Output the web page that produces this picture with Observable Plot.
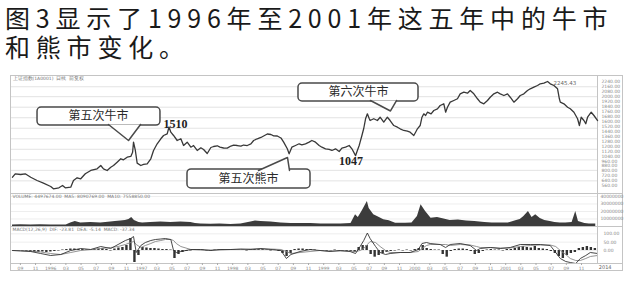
<!DOCTYPE html>
<html><head><meta charset="utf-8">
<script src="https://cdn.jsdelivr.net/npm/d3@7"></script>
<script src="https://cdn.jsdelivr.net/npm/@observablehq/plot@0.6"></script>
<style>
html,body{margin:0;padding:0;background:#fff;}
body{width:632px;height:287px;position:relative;overflow:hidden;}
.title{position:absolute;left:5px;font-family:"Noto Sans CJK SC",sans-serif;font-size:25px;line-height:28px;height:28px;letter-spacing:5.8px;color:#1a1a1a;white-space:nowrap;}
#frame{position:absolute;left:10px;top:75px;width:613px;height:196px;border:1px solid #c4c4c4;box-sizing:border-box;}
.sep{position:absolute;left:597px;width:25px;height:0;border-top:1px solid #c4c4c4;}
.panel{position:absolute;left:0;}
g[aria-label="callout"] text{letter-spacing:2px;}
</style></head><body>
<div class="title" style="top:3px">图3显示了1996年至2001年这五年中的牛市</div>
<div class="title" style="top:32px">和熊市变化。</div>
<div id="frame"></div>
<div class="sep" style="top:193px"></div>
<div class="sep" style="top:226px"></div>
<div class="sep" style="top:263px"></div>
<div id="price" class="panel" style="top:62px"></div>
<div id="vol" class="panel" style="top:193px"></div>
<div id="macd" class="panel" style="top:226px"></div>
<script>
// ---------- data ----------
const priceT = [1995.58,1995.61,1995.67,1995.72,1995.78,1995.85,1995.92,1996.00,1996.03,1996.09,1996.13,1996.16,1996.22,1996.25,1996.29,1996.33,1996.38,1996.44,1996.51,1996.55,1996.58,1996.62,1996.66,1996.69,1996.73,1996.77,1996.80,1996.84,1996.88,1996.90,1996.91,1996.93,1996.95,1996.99,1997.02,1997.06,1997.10,1997.13,1997.17,1997.21,1997.24,1997.28,1997.30,1997.32,1997.35,1997.39,1997.43,1997.46,1997.50,1997.54,1997.57,1997.61,1997.65,1997.68,1997.72,1997.76,1997.79,1997.83,1997.86,1997.90,1997.94,1997.98,1998.01,1998.05,1998.09,1998.12,1998.16,1998.20,1998.23,1998.27,1998.31,1998.34,1998.38,1998.42,1998.45,1998.49,1998.53,1998.56,1998.60,1998.62,1998.65,1998.69,1998.73,1998.76,1998.80,1998.84,1998.87,1998.91,1998.95,1998.98,1999.02,1999.06,1999.09,1999.13,1999.17,1999.20,1999.24,1999.28,1999.31,1999.35,1999.37,1999.39,1999.40,1999.42,1999.44,1999.46,1999.48,1999.50,1999.51,1999.55,1999.59,1999.62,1999.66,1999.70,1999.73,1999.77,1999.81,1999.84,1999.88,1999.92,1999.95,1999.99,2000.01,2000.03,2000.06,2000.08,2000.10,2000.12,2000.14,2000.18,2000.21,2000.25,2000.28,2000.32,2000.34,2000.36,2000.39,2000.43,2000.47,2000.50,2000.54,2000.58,2000.61,2000.65,2000.69,2000.72,2000.76,2000.80,2000.83,2000.87,2000.91,2000.94,2000.98,2001.02,2001.05,2001.09,2001.13,2001.16,2001.20,2001.24,2001.27,2001.31,2001.35,2001.38,2001.42,2001.46,2001.49,2001.53,2001.57,2001.59,2001.60,2001.64,2001.68,2001.71,2001.75,2001.79,2001.81,2001.83,2001.86,2001.88,2001.90,2001.94,2001.97,2002.01];
const priceV = [699,754,743,754,699,646,603,549,512,528,565,528,538,646,690,674,754,808,835,888,835,808,861,888,942,997,980,1022,1034,1103,1265,1131,926,888,905,916,997,1131,1239,1320,1373,1400,1510,1426,1373,1292,1320,1211,1265,1184,1211,1131,1174,1147,1082,1179,1195,1207,1184,1171,1168,1203,1216,1211,1200,1219,1211,1236,1292,1320,1341,1365,1397,1389,1368,1365,1333,1265,1158,1077,1184,1211,1239,1223,1239,1265,1292,1265,1211,1184,1158,1147,1131,1158,1115,1168,1184,1211,1158,1047,1131,1211,1265,1373,1486,1643,1723,1647,1615,1643,1615,1668,1588,1668,1615,1534,1507,1481,1454,1442,1426,1373,1426,1481,1534,1668,1723,1696,1749,1723,1777,1804,1857,1885,1749,1830,1911,1938,1966,2046,2072,2056,2100,2046,1966,1911,1885,1938,1991,2046,2072,2046,2019,2046,1991,1911,1966,2019,2046,2100,2127,2153,2180,2208,2218,2245,2208,2180,2127,1966,1911,1885,1830,1804,1749,1643,1534,1668,1615,1562,1668,1749,1696,1615];

const gridLevels = [2160,2000,1830,1660,1490,1320,1150,980,810,640];
const priceTicks = [560,640,720,800,880,960,1040,1120,1200,1280,1360,1440,1520,1600,1680,1760,1840,1920,2000,2080,2160,2240];

const volT = [1995.58,1995.67,1995.78,1995.89,1996.00,1996.11,1996.17,1996.22,1996.27,1996.33,1996.44,1996.55,1996.66,1996.71,1996.77,1996.82,1996.86,1996.89,1996.92,1996.97,1997.01,1997.10,1997.21,1997.32,1997.43,1997.54,1997.59,1997.65,1997.76,1997.86,1997.98,1998.09,1998.20,1998.25,1998.31,1998.42,1998.53,1998.64,1998.75,1998.86,1998.97,1999.08,1999.19,1999.30,1999.35,1999.38,1999.42,1999.45,1999.48,1999.50,1999.55,1999.59,1999.66,1999.72,1999.79,1999.90,1999.97,2000.03,2000.07,2000.12,2000.18,2000.25,2000.31,2000.39,2000.48,2000.57,2000.66,2000.77,2000.85,2000.94,2001.03,2001.12,2001.16,2001.20,2001.25,2001.29,2001.33,2001.38,2001.43,2001.49,2001.54,2001.60,2001.66,2001.73,2001.77,2001.80,2001.87,2001.92,2001.99];
const volV = [2.0,2.3,2.0,2.4,2.0,2.1,2.0,4.7,6.7,4.7,5.3,4.7,6.0,6.7,7.3,8.0,9.3,12.0,8.0,5.3,4.7,5.3,6.0,5.3,6.0,5.3,4.0,3.3,3.1,3.3,2.7,3.3,6.0,7.3,6.7,6.0,4.7,4.0,4.0,4.0,3.3,3.3,3.3,4.0,15.6,12.0,20.0,26.7,33.3,24.0,15.6,13.3,8.9,7.6,4.4,4.4,4.7,13.3,28.9,20.0,11.1,12.0,10.3,8.0,8.7,7.3,6.7,5.3,4.7,4.7,4.7,8.0,9.3,13.3,20.0,12.0,15.6,10.7,8.0,6.7,5.3,4.7,4.7,5.3,20.0,6.7,4.0,3.3,3.3];
const volTicks = [10,20,30,40];

const macdT = [1995.58,1995.67,1995.78,1995.89,1996.00,1996.11,1996.22,1996.33,1996.44,1996.55,1996.66,1996.74,1996.82,1996.88,1996.91,1996.94,1996.99,1997.04,1997.10,1997.15,1997.21,1997.26,1997.32,1997.35,1997.38,1997.43,1997.54,1997.65,1997.76,1997.86,1997.98,1998.09,1998.20,1998.31,1998.42,1998.53,1998.59,1998.64,1998.74,1998.85,1998.96,1999.07,1999.18,1999.29,1999.35,1999.40,1999.44,1999.48,1999.51,1999.57,1999.62,1999.68,1999.73,1999.84,1999.95,2000.04,2000.08,2000.13,2000.17,2000.28,2000.34,2000.39,2000.50,2000.61,2000.68,2000.72,2000.83,2000.94,2001.05,2001.16,2001.27,2001.38,2001.49,2001.55,2001.60,2001.66,2001.71,2001.77,2001.82,2001.88,2001.93,2002.01];
const difV = [0,-3,-6,-18,-30,-24,0,12,6,24,12,36,60,72,84,-12,30,48,60,66,69,72,66,0,-12,-6,6,6,0,6,6,9,6,12,6,0,-48,-24,-6,6,0,-6,0,-6,-18,24,60,105,72,24,-12,-24,-18,-12,-12,6,42,48,42,36,18,36,42,30,0,12,18,12,18,36,36,36,30,-12,-48,-66,-72,-78,-48,-30,-12,-18];
const deaV = [0,0,-3,-9,-18,-24,-12,0,6,12,18,24,36,48,54,36,18,30,42,54,60,66,66,60,42,24,6,3,3,3,6,6,9,9,9,6,-6,-18,-12,-6,0,-3,-3,-3,-6,0,12,36,54,48,24,0,-12,-12,-12,-6,12,30,36,36,36,30,36,33,24,18,18,15,15,24,30,33,33,24,0,-24,-48,-60,-60,-48,-36,-30];
const histStart = 1995.60, histStep = 0.044;
const histV = [-3,-3,-6,-6,-9,-12,-12,-9,-12,-9,-6,-3,3,6,9,9,6,6,3,0,6,9,12,6,-3,9,15,18,30,72,-72,-30,18,15,12,12,9,6,6,3,-48,-24,-12,-6,-3,3,3,3,-3,-3,3,3,3,0,3,3,3,3,-3,3,6,6,6,3,-3,3,-6,-18,-36,-18,6,9,9,6,6,3,0,-3,-6,-3,3,-3,-3,-6,-6,-12,18,30,30,-24,-40,-30,-18,-12,-6,-3,3,-3,3,-3,6,12,30,12,6,3,3,-24,-40,-6,6,9,9,6,-6,-24,-18,-6,3,6,3,3,-3,6,6,12,18,24,18,15,24,12,9,6,-6,-18,-36,-48,-30,-18,-12,12,18,24,18,12];
const macdTicks = [0,50,100];

const axisYears = [1995,1996,1997,1998,1999,2000,2001];
const axisMonths = [1,3,5,7,9,11];

const calloutLabels = ["第五次牛市","第五次熊市","第六次牛市"];
const boxT1 = [1995.855,1997.503,1998.723];
const boxT2 = [1997.206,1998.855,2000.042];
const boxVTop = [1825,824,2213];
const boxVBottom = [1534,517,1922];
const textT = [1996.525,1998.173,1999.382];
const textV = [1680,670,2067];
const ptrBaseT1 = [1996.635,1998.283,1999.514];
const ptrTipT = [1996.855,1998.602,1999.734];
const ptrBaseT2 = [1996.987,1998.624,1999.800];
const ptrBaseV = [1551,808,1938];
const ptrTipV = [1292,1018,1769];

const peakLabels = ["1510","1047"];
const peakT = [1997.371,1999.30];
const peakV = [1551,961];
const highLabel = "2245.43", highT = 2001.525, highV = 2213;

const priceHeader = "上证指数(1A0001)  日线  前复权";
const volHeader = "VOLUME: 4497674.00  MA5: 8090769.00  MA10: 7558850.00";
const macdHeader = "MACD(12,26,9)  DIF: -23.81  DEA: -5.14  MACD: -37.34";
const cornerLabel = "2014";

// ---------- build ----------
const W = 632;
const xDomain = [1995.558, 2002.009];
const common = {width: W, marginLeft: 10, marginRight: 35,
  x: {domain: xDomain, axis: null},
  style: {background: "transparent", overflow: "visible", fontFamily: "DejaVu Sans, sans-serif", color: "#333"}};
const small = {fontSize: 4.5, fill: "#777"};

const priceData = priceT.map((t, i) => ({t, v: priceV[i]}));
const callouts = calloutLabels.map((label, i) => ({label, x1: boxT1[i], x2: boxT2[i], y1: boxVTop[i], y2: boxVBottom[i], tx: textT[i], ty: textV[i]}));
const pointers = calloutLabels.flatMap((label, i) => [
  {id: i, t: ptrBaseT1[i], v: ptrBaseV[i]},
  {id: i, t: ptrTipT[i], v: ptrTipV[i]},
  {id: i, t: ptrBaseT2[i], v: ptrBaseV[i]}]);
const peaks = peakLabels.map((label, i) => ({label, t: peakT[i], v: peakV[i]}));

const price = Plot.plot({...common, height: 131, marginTop: 13, marginBottom: 0,
  y: {domain: [436, 2342]},
  marks: [
    Plot.ruleY(gridLevels, {stroke: "#dcdcdc", strokeWidth: 0.8}),
    Plot.frame({stroke: "#c4c4c4"}),
    Plot.axisY(priceTicks, {anchor: "right", tickSize: 0, tickPadding: 4, fontSize: 4.5, fill: "#888", tickFormat: d => d.toFixed(2), label: null}),
    Plot.text([priceHeader], {frameAnchor: "top-left", dx: 2, dy: 1.5, textAnchor: "start", ...small}),
    Plot.line(priceData, {x: "t", y: "v", stroke: "#383838", strokeWidth: 1.3}),
    Plot.rect(callouts, {x1: "x1", x2: "x2", y1: "y1", y2: "y2", fill: "white", stroke: "#4a4a4a", strokeWidth: 1.5, rx: 4}),
    Plot.line(pointers, {x: "t", y: "v", z: "id", fill: "white", stroke: "#4a4a4a", strokeWidth: 1.5, curve: "linear"}),
    Plot.text(callouts, {x: "tx", y: "ty", text: "label", fontSize: 12, fill: "#2a2a2a", fontFamily: "Noto Sans CJK SC", ariaLabel: "callout"}),
    Plot.text(peaks, {x: "t", y: "v", text: "label", fontSize: 12, fontWeight: "bold", fill: "#222", fontFamily: "Liberation Serif"}),
    Plot.text([highLabel], {x: () => highT, y: () => highV, textAnchor: "start", fontSize: 5.5, fill: "#666"})
  ]});
document.getElementById("price").appendChild(price);

const volData = volT.map((t, i) => ({t, v: volV[i]}));
const vol = Plot.plot({...common, height: 33, marginTop: 0, marginBottom: 0,
  y: {domain: [0, 44]},
  marks: [
    Plot.ruleY(volTicks, {stroke: "#e2e2e2", strokeWidth: 0.6}),
    Plot.areaY(volData, {x: "t", y: "v", fill: "#3c3c3c"}),
    Plot.frame({stroke: "#c4c4c4"}),
    Plot.axisY(volTicks, {anchor: "right", tickSize: 0, tickPadding: 3, fontSize: 4.5, fill: "#888", tickFormat: d => String(d * 1000000), label: null}),
    Plot.text([volHeader], {frameAnchor: "top-left", dx: 2, dy: 1.5, textAnchor: "start", ...small})
  ]});
document.getElementById("vol").appendChild(vol);

const macdData = macdT.map((t, i) => ({t, dif: difV[i], dea: deaV[i]}));
const histData = histV.map((v, i) => ({t: histStart + i * histStep, v}));
const tickT = [], tickL = [];
axisYears.forEach(y => axisMonths.forEach(m => {
  const t = y + (m - 1) / 12;
  if (t > xDomain[0] + 0.05 && t < xDomain[1] - 0.05) { tickT.push(t); tickL.push(m === 1 ? String(y) : String(m).padStart(2, "0")); }
}));
const macd = Plot.plot({...common, height: 61, marginTop: 0, marginBottom: 24,
  y: {domain: [-78, 144]},
  marks: [
    Plot.ruleY(macdTicks, {stroke: "#e2e2e2", strokeWidth: 0.6}),
    Plot.ruleX(histData, {x: "t", y1: 0, y2: "v", stroke: "#333", strokeWidth: 2.4}),
    Plot.line(macdData, {x: "t", y: "dea", stroke: "#888", strokeWidth: 0.9}),
    Plot.line(macdData, {x: "t", y: "dif", stroke: "#333", strokeWidth: 0.9}),
    Plot.frame({stroke: "#c4c4c4"}),
    Plot.axisY(macdTicks, {anchor: "right", tickSize: 0, tickPadding: 6, fontSize: 4.5, fill: "#888", tickFormat: d => d.toFixed(2), label: null}),
    Plot.axisX(tickT, {anchor: "bottom", tickSize: 2, tickPadding: 1, fontSize: 4.5, fill: "#888", stroke: "#aaa", tickFormat: (d, i) => tickL[i], label: null}),
    Plot.text([macdHeader], {frameAnchor: "top-left", dx: 2, dy: 1.5, textAnchor: "start", ...small}),
    Plot.text([cornerLabel], {frameAnchor: "bottom-right", dx: 14, dy: 5, fontSize: 5, fill: "#666"})
  ]});
document.getElementById("macd").appendChild(macd);
</script>
</body></html>
